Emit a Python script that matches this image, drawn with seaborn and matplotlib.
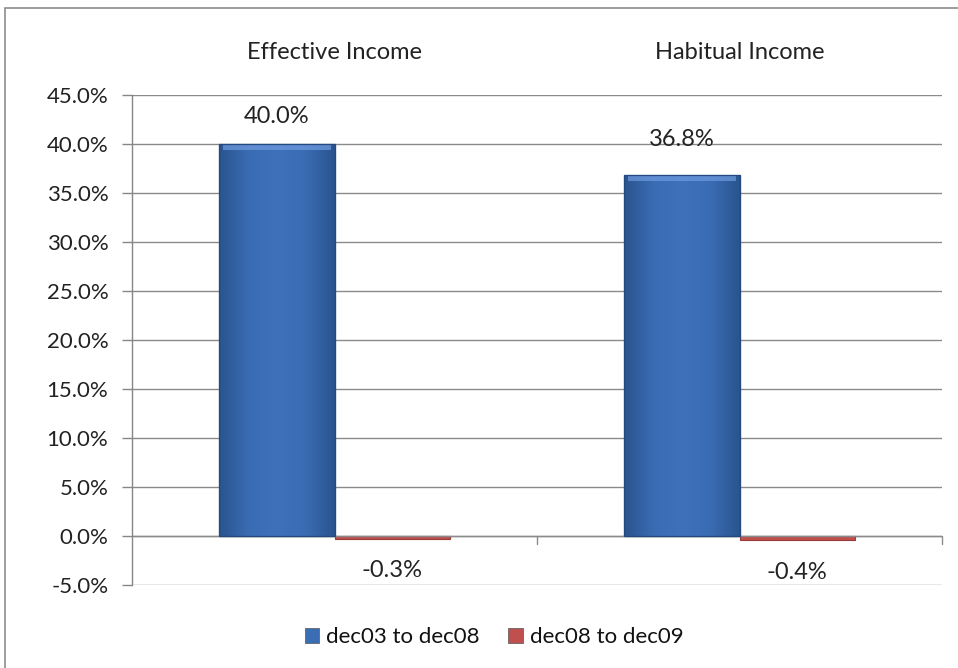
import matplotlib
matplotlib.use("Agg")
import matplotlib.pyplot as plt
import matplotlib.patches as mpatches
from matplotlib.colors import LinearSegmentedColormap
import numpy as np
import seaborn as sns
import pandas as pd

categories = ["Effective Income", "Habitual Income"]
series_names = ["dec03 to dec08", "dec08 to dec09"]
dec03_to_dec08 = [40.0, 36.8]
dec08_to_dec09 = [-0.3, -0.4]
yticks = [-5, 0, 5, 10, 15, 20, 25, 30, 35, 40, 45]

# label placement (layout only)
blue_label_y = [42.8, 40.5]
red_label_y = [-3.5, -3.7]

rows = []
for c, v1, v2 in zip(categories, dec03_to_dec08, dec08_to_dec09):
    rows.append({"cat": c, "series": series_names[0], "val": v1})
    rows.append({"cat": c, "series": series_names[1], "val": v2})
df = pd.DataFrame(rows)

sns.set_theme(style="white")
plt.rcParams["font.family"] = ["Lato", "DejaVu Sans"]

fig = plt.figure(figsize=(9.58, 6.68), dpi=100)
ax = fig.add_axes([132/958, 1-585/668, (942-132)/958, (585-95)/668])

colors = {series_names[0]: "#3b6db4", series_names[1]: "#c0504d"}
sns.barplot(data=df, x="cat", y="val", hue="series", palette=colors,
            width=0.57, ax=ax, legend=False, saturation=1,
            edgecolor="#2a5088", linewidth=0.8)

blue_cmap = LinearSegmentedColormap.from_list("b", ["#2a5490", "#3a6cb3", "#3d71ba", "#3a6cb3", "#2a5490"])
for p in list(ax.patches):
    if p.get_height() < 0:
        p.set_edgecolor("#9a3b38")
    else:
        x0, y0, w, h = p.get_x(), p.get_y(), p.get_width(), p.get_height()
        grad = np.tile(np.linspace(0, 1, 64), (8, 1))
        im = ax.imshow(grad, cmap=blue_cmap, extent=[x0, x0 + w, y0, y0 + h],
                       aspect="auto", origin="lower", zorder=p.get_zorder() + 0.1)
        im.set_clip_path(p)
        ax.add_patch(mpatches.Rectangle((x0 + w * 0.03, y0 + h - 0.6), w * 0.94, 0.5,
                                        facecolor="#6f9be0", edgecolor="none", alpha=0.7,
                                        zorder=p.get_zorder() + 0.2))
        ax.add_patch(mpatches.Rectangle((x0, y0), w, h, facecolor="none",
                                        edgecolor="#24497f", linewidth=0.9,
                                        zorder=p.get_zorder() + 0.3))

ax.set_xlim(-0.5, 1.5)
ax.set_ylim(-5, 45)
ax.set_yticks(yticks)
ax.set_yticklabels([f"{t:.1f}%" for t in yticks], fontsize=16, color="#222222")
ax.set_xticks([])
ax.set_xlabel("")
ax.set_ylabel("")
ax.tick_params(axis="y", length=7, width=1, color="#868686", direction="out", pad=10, left=True)

for s in ["top", "right", "bottom"]:
    ax.spines[s].set_visible(False)
ax.spines["left"].set_color("#868686")
ax.spines["left"].set_linewidth(1)

ax.yaxis.grid(True, color="#8a8a8a", linewidth=1)
ax.set_axisbelow(True)
ax.axhline(0, color="#8a8a8a", linewidth=1, zorder=1)
for xb in [0.5, 1.5]:
    ax.plot([xb, xb], [0, -0.8], color="#8a8a8a", lw=1, clip_on=False)

for i, c in enumerate(categories):
    ax.text(i, 49.3, c, ha="center", va="center", fontsize=17, color="#222222")

bars_blue = sorted([p for p in ax.containers[0]], key=lambda b: b.get_x())
bars_red = sorted([p for p in ax.containers[1]], key=lambda b: b.get_x())
for p, v, ly in zip(bars_blue, dec03_to_dec08, blue_label_y):
    ax.text(p.get_x() + p.get_width()/2, ly, f"{v:.1f}%", ha="center", va="center",
            fontsize=17, color="#222222", zorder=10)
for p, v, ly in zip(bars_red, dec08_to_dec09, red_label_y):
    ax.text(p.get_x() + p.get_width()/2, ly, f"{v:.1f}%", ha="center", va="center",
            fontsize=17, color="#222222", zorder=10)

handles = [mpatches.Patch(facecolor=colors[s], edgecolor="#555555", linewidth=0.5) for s in series_names]
fig.legend(handles, series_names, loc="center", bbox_to_anchor=(494/958, 1-637/668), ncol=2,
           frameon=False, handlelength=0.65, handleheight=0.65, handletextpad=0.3,
           columnspacing=1.3, fontsize=16, labelcolor="#111111")

border = mpatches.Rectangle((5/958, -0.05), 1.2, 1-8/668+0.05, transform=fig.transFigure,
                            fill=False, edgecolor="#8c8c8c", linewidth=1.2)
fig.patches.append(border)

fig.savefig("out.png", dpi=100)
